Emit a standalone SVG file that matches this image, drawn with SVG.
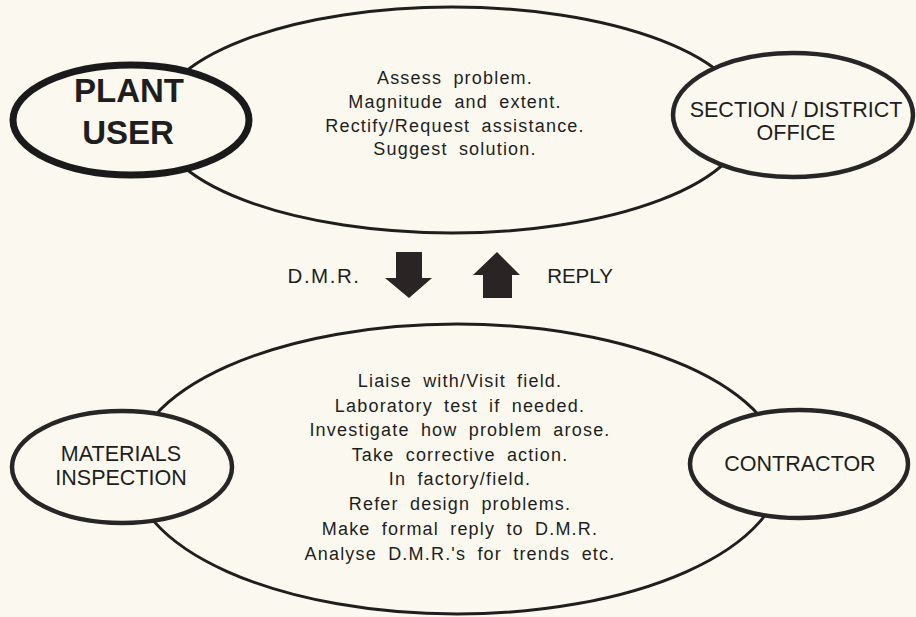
<svg xmlns="http://www.w3.org/2000/svg" width="916" height="617" viewBox="0 0 916 617">
<style>
.bg{fill:#fbf9ef}
.big{fill:none;stroke:#1e1e1e;stroke-width:3}
.node{fill:#fbf9ef;stroke:#262626;stroke-width:4.5}
.thick{fill:#fbf9ef;stroke:#1a1a1a;stroke-width:7}
.t{font-family:"Liberation Sans",Arial,sans-serif;fill:#1e1e1e;text-anchor:middle}
.body{font-size:18px;letter-spacing:1.2px;word-spacing:5px}
.lab{font-size:21.5px}
.plant{font-size:33px;font-weight:bold}
.arrow{fill:#2a2424}
</style>
<rect class="bg" x="0" y="0" width="916" height="617"/>
<g id="connectors">
<ellipse id="top-process" class="big" cx="452" cy="120" rx="295" ry="113"/>
<ellipse id="bottom-process" class="big" cx="457" cy="469" rx="325" ry="145"/>
<path id="arrow-dmr" class="arrow" d="M396,252 H422 V278 H432 L409,298 L385,278 H396 Z"/>
<path id="arrow-reply" class="arrow" d="M497,252 L520,275 H512 V298 H483 V275 H473 Z"/>
</g>
<g id="top-text" class="t body">
<text x="455" y="84">Assess problem.</text>
<text x="455" y="108">Magnitude and extent.</text>
<text x="455" y="132">Rectify/Request assistance.</text>
<text x="455" y="155">Suggest solution.</text>
</g>
<g id="node-plant-user">
<ellipse class="thick" cx="131" cy="120" rx="118" ry="55"/>
<text class="t plant" x="129" y="102">PLANT</text>
<text class="t plant" x="128" y="144">USER</text>
</g>
<g id="node-section-office">
<ellipse class="node" cx="793" cy="115" rx="120" ry="62"/>
<text class="t lab" x="796" y="117">SECTION / DISTRICT</text>
<text class="t lab" x="796" y="140">OFFICE</text>
</g>
<g id="labels" class="t">
<text x="324" y="283" font-size="20.5" letter-spacing="1.5">D.M.R.</text>
<text x="580" y="283" font-size="20.5">REPLY</text>
</g>
<g id="bottom-text" class="t body">
<text x="460" y="387">Liaise with/Visit field.</text>
<text x="460" y="412">Laboratory test if needed.</text>
<text x="460" y="436">Investigate how problem arose.</text>
<text x="460" y="461">Take corrective action.</text>
<text x="460" y="485">In factory/field.</text>
<text x="460" y="510">Refer design problems.</text>
<text x="460" y="535">Make formal reply to D.M.R.</text>
<text x="460" y="560">Analyse D.M.R.'s for trends etc.</text>
</g>
<g id="node-materials-inspection">
<ellipse class="node" cx="122" cy="467" rx="110" ry="56"/>
<text class="t lab" x="121" y="461">MATERIALS</text>
<text class="t lab" x="121" y="485">INSPECTION</text>
</g>
<g id="node-contractor">
<ellipse class="node" cx="799" cy="464" rx="109" ry="54"/>
<text class="t lab" x="800" y="471">CONTRACTOR</text>
</g>
</svg>
